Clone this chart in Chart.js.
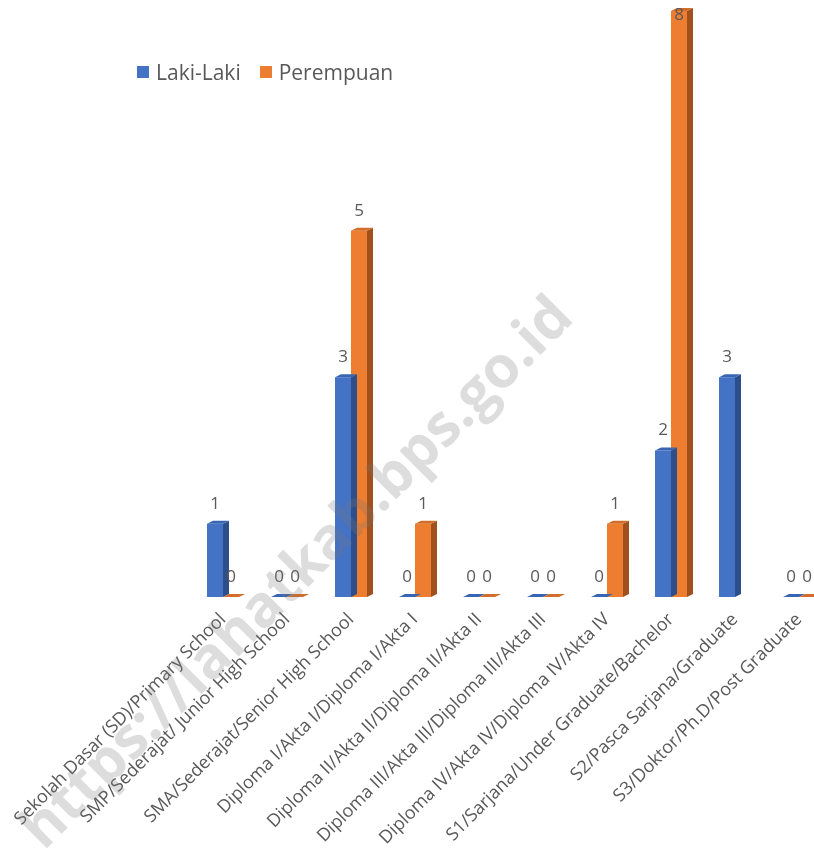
<!DOCTYPE html>
<html>
<head>
<meta charset="utf-8">
<script src="https://cdn.jsdelivr.net/npm/chart.js@4/dist/chart.umd.min.js"></script>
<style>
  body { margin: 0; background: #fff; overflow: hidden; font-family: "Open Sans", sans-serif; }
  #wrap { position: relative; width: 840px; height: 859px; }
  #legend { position: absolute; left: 137px; top: 58px; display: flex; align-items: center; font-size: 21px; color: #595959; }
  #legend span.box { display: inline-block; width: 12px; height: 12px; margin-right: 7px; }
  #legend span.item { display: flex; align-items: center; margin-right: 19px; }
</style>
</head>
<body>
<div id="wrap">
  <canvas id="chart" width="840" height="859"></canvas>
  <div id="legend">
    <span class="item"><span class="box" style="background:#4472C4"></span>Laki-Laki</span>
    <span class="item"><span class="box" style="background:#ED7D31"></span>Perempuan</span>
  </div>
</div>
<script>
// data
const categories = [
    'Sekolah Dasar (SD)/Primary School',
    'SMP/Sederajat/ Junior High School',
    'SMA/Sederajat/Senior High School',
    'Diploma I/Akta I/Diploma I/Akta I',
    'Diploma II/Akta II/Diploma II/Akta II',
    'Diploma III/Akta III/Diploma III/Akta III',
    'Diploma IV/Akta IV/Diploma IV/Akta IV',
    'S1/Sarjana/Under Graduate/Bachelor',
    'S2/Pasca Sarjana/Graduate',
    'S3/Doktor/Ph.D/Post Graduate'
];
const lakiLaki = [1, 0, 3, 0, 0, 0, 0, 2, 3, 0];
const perempuan = [0, 0, 5, 1, 0, 0, 1, 8, null, 0];

const seriesColors = [
    { front: '#4472C4', side: '#2C4E8A', top: '#3865B3' },
    { front: '#ED7D31', side: '#A0501C', top: '#D36C29' }
];

// fake 3D: side + top faces for every bar
const bar3d = {
    id: 'bar3d',
    afterDatasetsDraw(chart) {
        const ctx = chart.ctx;
        const dx = 6, dy = 3;
        chart.data.datasets.forEach((ds, i) => {
            const meta = chart.getDatasetMeta(i);
            const c = seriesColors[i];
            meta.data.forEach((bar, j) => {
                if (ds.data[j] === null) return;
                const left = bar.x - bar.width / 2;
                const right = bar.x + bar.width / 2;
                const top = bar.y, base = bar.base;
                ctx.save();
                ctx.fillStyle = c.side;
                ctx.beginPath();
                ctx.moveTo(right, top);
                ctx.lineTo(right + dx, top - dy);
                ctx.lineTo(right + dx, base - dy);
                ctx.lineTo(right, base);
                ctx.closePath();
                ctx.fill();
                ctx.fillStyle = c.top;
                ctx.beginPath();
                ctx.moveTo(left, top);
                ctx.lineTo(left + dx, top - dy);
                ctx.lineTo(right + dx, top - dy);
                ctx.lineTo(right, top);
                ctx.closePath();
                ctx.fill();
                ctx.restore();
            });
        });
    }
};

// value labels above bars
const barLabels = {
    id: 'barLabels',
    afterDatasetsDraw(chart) {
        const ctx = chart.ctx;
        ctx.save();
        ctx.font = '17px "Open Sans"';
        ctx.fillStyle = '#595959';
        ctx.textAlign = 'center';
        ctx.textBaseline = 'middle';
        chart.data.datasets.forEach((ds, i) => {
            chart.getDatasetMeta(i).data.forEach((bar, j) => {
                const v = ds.data[j];
                if (v === null) return;
                ctx.fillText(String(v), bar.x, Math.max(bar.y - 20, 15));
            });
        });
        ctx.restore();
    }
};

// watermark over the picture
const watermark = {
    id: 'watermark',
    afterDraw(chart) {
        const ctx = chart.ctx;
        ctx.save();
        ctx.translate(298, 574);
        ctx.rotate(-Math.PI / 4);
        ctx.font = 'bold 58px "Open Sans"';
        ctx.fillStyle = 'rgba(120,120,120,0.25)';
        ctx.textAlign = 'center';
        ctx.textBaseline = 'middle';
        ctx.fillText('https://lahatkab.bps.go.id', 0, 0);
        ctx.restore();
    }
};

new Chart(document.getElementById('chart'), {
    type: 'bar',
    data: {
        labels: categories,
        datasets: [
            { label: 'Laki-Laki', data: lakiLaki, backgroundColor: seriesColors[0].front },
            { label: 'Perempuan', data: perempuan, backgroundColor: seriesColors[1].front }
        ]
    },
    options: {
        responsive: false,
        animation: false,
        devicePixelRatio: 1,
        categoryPercentage: 0.5,
        barPercentage: 1,
        layout: { padding: { left: 191, top: 11, right: 9, bottom: 0 } },
        plugins: { legend: { display: false }, tooltip: { enabled: false } },
        scales: {
            x: {
                grid: { display: false, drawTicks: false },
                border: { display: false },
                ticks: {
                    autoSkip: false,
                    minRotation: 45,
                    maxRotation: 45,
                    padding: 12,
                    color: '#595959',
                    font: { family: 'Open Sans', size: 18 }
                },
                afterFit: scale => {
                    scale.height = 262;
                    scale.paddingLeft = 0;
                    scale.paddingRight = 0;
                }
            },
            y: { display: false, min: 0, max: 8 }
        }
    },
    plugins: [bar3d, barLabels, watermark]
});
</script>
</body>
</html>
